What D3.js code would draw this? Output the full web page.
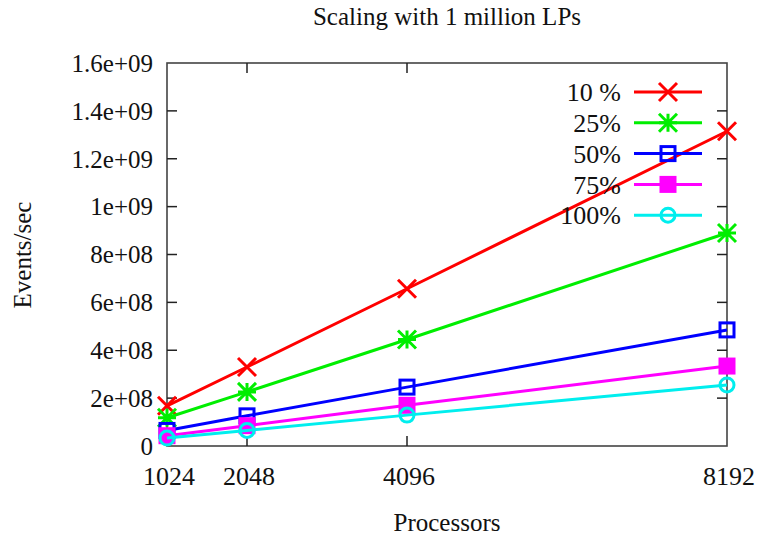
<!DOCTYPE html>
<html>
<head>
<meta charset="utf-8">
<script src="https://cdn.jsdelivr.net/npm/d3@7"></script>
<style>
  html, body { margin: 0; padding: 0; background: #fff; }
  svg text { font-family: "Liberation Serif", "Times New Roman", "DejaVu Serif", serif; fill: #111; }
</style>
</head>
<body>
<svg id="chart" width="758" height="540"></svg>
<script>
// Processor counts on the x axis
const processors = [1024, 2048, 4096, 8192];

// Event rates (events/sec) per remote-event percentage
const seriesNames = ["10 %", "25%", "50%", "75%", "100%"];
const rate10 = [1.68e8, 3.30e8, 6.57e8, 1.315e9];
const rate25 = [1.18e8, 2.26e8, 4.45e8, 8.90e8];
const rate50 = [6.5e7, 1.26e8, 2.46e8, 4.85e8];
const rate75 = [4.3e7, 8.5e7, 1.70e8, 3.34e8];
const rate100 = [3.3e7, 6.5e7, 1.29e8, 2.55e8];

const yTicks = [0, 2e8, 4e8, 6e8, 8e8, 1e9, 1.2e9, 1.4e9, 1.6e9];
const yTickLabels = ["0", "2e+08", "4e+08", "6e+08", "8e+08", "1e+09", "1.2e+09", "1.4e+09", "1.6e+09"];

const seriesValues = [rate10, rate25, rate50, rate75, rate100];
const colors = ["#ff0000", "#00ee00", "#0000ff", "#ff00ff", "#00eeee"];
const markers = ["cross", "star", "square", "filledSquare", "circle"];

const svg = d3.select("#chart");
const plotLeft = 167, plotRight = 727, plotTop = 63, plotBottom = 446;

const x = d3.scaleLinear().domain([1024, 8192]).range([plotLeft, plotRight]);
const y = d3.scaleLinear().domain([0, 1.6e9]).range([plotBottom, plotTop]);

// Title
svg.append("text")
  .attr("x", 447).attr("y", 25)
  .attr("text-anchor", "middle")
  .style("font-size", "25px")
  .text("Scaling with 1 million LPs");

// Frame
svg.append("rect")
  .attr("x", plotLeft).attr("y", plotTop)
  .attr("width", plotRight - plotLeft).attr("height", plotBottom - plotTop)
  .attr("fill", "none").attr("stroke", "#444").attr("stroke-width", 1.6);

// Y ticks (mirrored on both sides, pointing inward)
const tickLen = 10;
const yt = svg.append("g");
yTicks.forEach((v, i) => {
  const yy = y(v);
  if (i > 0 && i < yTicks.length - 1) {
    yt.append("line").attr("x1", plotLeft).attr("x2", plotLeft + tickLen).attr("y1", yy).attr("y2", yy)
      .attr("stroke", "#222").attr("stroke-width", 1.5);
    yt.append("line").attr("x1", plotRight).attr("x2", plotRight - tickLen).attr("y1", yy).attr("y2", yy)
      .attr("stroke", "#222").attr("stroke-width", 1.5);
  }
  yt.append("text")
    .attr("x", plotLeft - 14).attr("y", yy)
    .attr("dy", "0.35em")
    .attr("text-anchor", "end")
    .style("font-size", "25px")
    .text(yTickLabels[i]);
});

// X ticks (bottom and top, pointing inward)
const xt = svg.append("g");
processors.forEach(p => {
  const xx = x(p);
  if (p !== 1024 && p !== 8192) {
    xt.append("line").attr("x1", xx).attr("x2", xx).attr("y1", plotBottom).attr("y2", plotBottom - tickLen)
      .attr("stroke", "#222").attr("stroke-width", 1.5);
    xt.append("line").attr("x1", xx).attr("x2", xx).attr("y1", plotTop).attr("y2", plotTop + tickLen)
      .attr("stroke", "#222").attr("stroke-width", 1.5);
  }
  xt.append("text")
    .attr("x", xx + 2).attr("y", 485)
    .attr("text-anchor", "middle")
    .style("font-size", "26px")
    .text(p);
});

// Axis titles
svg.append("text")
  .attr("x", 447).attr("y", 531)
  .attr("text-anchor", "middle")
  .style("font-size", "25px")
  .text("Processors");

svg.append("text")
  .attr("transform", "translate(31,255) rotate(-90)")
  .attr("text-anchor", "middle")
  .style("font-size", "25px")
  .text("Events/sec");

// Marker drawing
function drawMarker(g, type, cx, cy, color) {
  const s = 9;
  if (type === "cross") {
    g.append("path")
      .attr("d", `M${cx - s},${cy - s}L${cx + s},${cy + s}M${cx - s},${cy + s}L${cx + s},${cy - s}`)
      .attr("stroke", color).attr("stroke-width", 3).attr("fill", "none");
  } else if (type === "star") {
    g.append("path")
      .attr("d", `M${cx - s},${cy - s}L${cx + s},${cy + s}M${cx - s},${cy + s}L${cx + s},${cy - s}M${cx - s},${cy}L${cx + s},${cy}M${cx},${cy - s}L${cx},${cy + s}`)
      .attr("stroke", color).attr("stroke-width", 3).attr("fill", "none");
  } else if (type === "square") {
    g.append("rect")
      .attr("x", cx - 7).attr("y", cy - 7).attr("width", 14).attr("height", 14)
      .attr("stroke", color).attr("stroke-width", 3).attr("fill", "none");
  } else if (type === "filledSquare") {
    g.append("rect")
      .attr("x", cx - 8.5).attr("y", cy - 8.5).attr("width", 17).attr("height", 17)
      .attr("fill", color);
  } else if (type === "circle") {
    g.append("circle")
      .attr("cx", cx).attr("cy", cy).attr("r", 7)
      .attr("stroke", color).attr("stroke-width", 3).attr("fill", "none");
  }
}

const line = d3.line().x((d, i) => x(processors[i])).y(d => y(d));

// Series lines with point markers, plus the key entry for each
const legendTextX = 621, legendLineX1 = 634, legendLineX2 = 702;
const legendY0 = 92, legendStep = 30.8;

seriesValues.forEach((vals, si) => {
  const g = svg.append("g");
  g.append("path")
    .datum(vals)
    .attr("d", line)
    .attr("fill", "none")
    .attr("stroke", colors[si])
    .attr("stroke-width", 3);
  vals.forEach((v, i) => drawMarker(g, markers[si], x(processors[i]), y(v), colors[si]));

  const ly = legendY0 + si * legendStep;
  g.append("text")
    .attr("x", legendTextX).attr("y", ly)
    .attr("dy", "0.35em")
    .attr("text-anchor", "end")
    .style("font-size", "26px")
    .text(seriesNames[si]);
  g.append("line")
    .attr("x1", legendLineX1).attr("x2", legendLineX2)
    .attr("y1", ly).attr("y2", ly)
    .attr("stroke", colors[si]).attr("stroke-width", 3);
  drawMarker(g, markers[si], (legendLineX1 + legendLineX2) / 2, ly, colors[si]);
});
</script>
</body>
</html>
